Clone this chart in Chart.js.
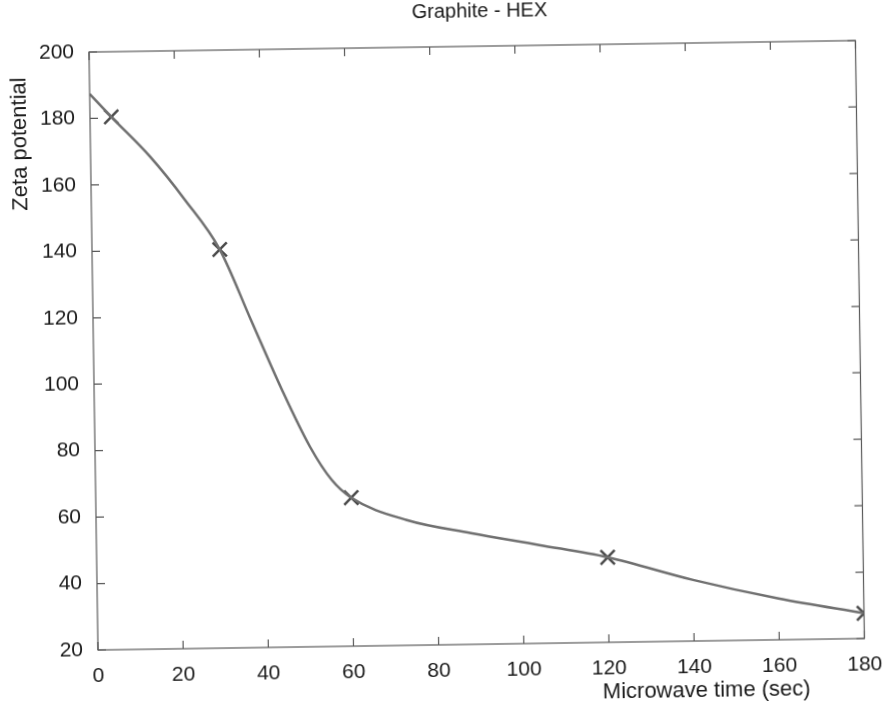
<!DOCTYPE html>
<html>
<head>
<meta charset="utf-8">
<script src="https://cdn.jsdelivr.net/npm/chart.js@4/dist/chart.umd.min.js"></script>
<style>
  html, body { margin: 0; padding: 0; background: #fff; overflow: hidden; }
  #wrap { width: 888px; height: 704px; overflow: hidden; }
  /* the scanned original sits slightly tilted, rotate round the lower left corner of the axes */
  #zetaChart { display: block; transform-origin: 98px 650px; transform: rotate(-0.86deg); }
</style>
</head>
<body>
<div id="wrap"><canvas id="zetaChart" width="888" height="720"></canvas></div>
<script>
// Measured points (crosses)
const sampleTimes = [5, 30, 60, 120, 180];
const sampleZeta = [180.4, 140, 64.7, 45.6, 27.6];
// Smooth fit curve
const fitTimes = [0, 5, 14, 22, 30, 37, 44, 50.5, 55.5, 60, 73, 88, 104, 120, 140, 160, 180];
const fitZeta = [187.4, 180.4, 168.2, 155.1, 140, 118.9, 97.8, 80.2, 70.1, 64.7, 57.7, 53.5, 49.6, 45.6, 38.4, 32.4, 27.6];
// Axis ticks
const xTicks = [0, 20, 40, 60, 80, 100, 120, 140, 160, 180];
const yTicks = [20, 40, 60, 80, 100, 120, 140, 160, 180, 200];

const chartTitle = 'Graphite - HEX';
const xLabel = 'Microwave time (sec)';
const yLabel = 'Zeta potential';

const FONT = '"Liberation Sans", Arial, sans-serif';
const INK = '#1a1a1a';
const BOX = '#5a5a5a';

// Draws the box, inward ticks and the titles (MATLAB style).
const framePlugin = {
    id: 'frame',
    afterDraw(chart) {
        const ctx = chart.ctx;
        const a = chart.chartArea;
        const xs = chart.scales.x, ys = chart.scales.y;
        ctx.save();
        ctx.strokeStyle = BOX;
        ctx.lineWidth = 1.2;
        ctx.strokeRect(a.left, a.top, a.right - a.left, a.bottom - a.top);
        ctx.beginPath();
        xTicks.forEach(v => {
            const px = xs.getPixelForValue(v);
            ctx.moveTo(px, a.bottom); ctx.lineTo(px, a.bottom - 8);
            ctx.moveTo(px, a.top); ctx.lineTo(px, a.top + 8);
        });
        yTicks.forEach(v => {
            const py = ys.getPixelForValue(v);
            ctx.moveTo(a.left, py); ctx.lineTo(a.left + 8, py);
            ctx.moveTo(a.right, py); ctx.lineTo(a.right - 8, py);
        });
        ctx.stroke();
        // titles
        ctx.fillStyle = INK;
        ctx.textAlign = 'center';
        ctx.textBaseline = 'alphabetic';
        ctx.font = '20px ' + FONT;
        ctx.fillText(chartTitle, a.left + 391, a.top - 29);
        ctx.font = '22px ' + FONT;
        ctx.fillText(xLabel, a.left + 608, a.bottom + 56);
        ctx.translate(a.left - 64, a.top + 91);
        ctx.rotate(-Math.PI / 2);
        ctx.fillText(yLabel, 0, 0);
        ctx.restore();
    }
};

const ctx = document.getElementById('zetaChart').getContext('2d');
new Chart(ctx, {
    type: 'line',
    data: {
        datasets: [{
            label: 'fit',
            data: fitTimes.map((t, i) => ({x: t, y: fitZeta[i]})),
            borderColor: '#707070',
            borderWidth: 2.5,
            pointRadius: 0,
            cubicInterpolationMode: 'monotone',
            fill: false
        }, {
            label: 'measured',
            data: sampleTimes.map((t, i) => ({x: t, y: sampleZeta[i]})),
            showLine: false,
            pointStyle: 'crossRot',
            pointRadius: 10,
            pointBorderWidth: 2.5,
            pointBorderColor: '#4a4a4a',
            pointBackgroundColor: '#4a4a4a'
        }]
    },
    options: {
        responsive: false,
        animation: false,
        layout: {padding: {top: 52, right: 22, left: 0, bottom: 0}},
        plugins: {legend: {display: false}, tooltip: {enabled: false}, title: {display: false}},
        scales: {
            x: {
                type: 'linear',
                min: 0, max: 180,
                grid: {display: false},
                border: {display: false},
                afterBuildTicks: s => { s.ticks = xTicks.map(v => ({value: v})); },
                afterFit: s => { s.height = 70; },
                ticks: {color: INK, padding: 6, maxRotation: 0, font: {family: FONT, size: 21}}
            },
            y: {
                min: 20, max: 200,
                grid: {display: false},
                border: {display: false},
                afterBuildTicks: s => { s.ticks = yTicks.map(v => ({value: v})); },
                afterFit: s => { s.width = 98; },
                ticks: {color: INK, padding: 7, font: {family: FONT, size: 21}}
            }
        }
    },
    plugins: [framePlugin]
});
</script>
</body>
</html>
